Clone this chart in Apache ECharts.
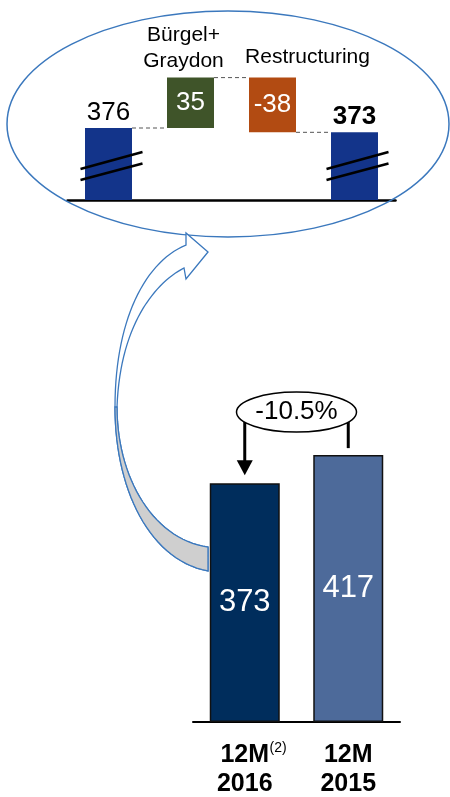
<!DOCTYPE html>
<html><head><meta charset="utf-8">
<script src="https://cdn.jsdelivr.net/npm/echarts@6.0.0/dist/echarts.min.js"></script>
<style>html,body{margin:0;padding:0;background:#fff}#c{width:450px;height:797px}</style>
</head><body><div id="c"></div>
<script>
// ---- data ----
const insetCategories = ['12M 2015', 'Bürgel+\nGraydon', 'Restructuring', '12M 2016'];
const insetValues = [376, 35, -38, 373];
const mainLine1 = ['12M', '12M'];
const mainFootnotes = ['(2)', ''];
const mainLine2 = ['2016', '2015'];
const mainValues = [373, 417];
const changeLabel = '-10.5%';

// ---- styles ----
const FONT = '"Liberation Sans", Arial, sans-serif';
const insetTotalColor = '#13348a';
const insetUpColor = '#3f5429';
const insetDownColor = '#b24b12';
const mainColors = ['#002d5c', '#4d6a9a'];
const INSET_BW = 47, MAIN_BW = 70;

// waterfall helpers derived from insetValues
const last = insetValues.length - 1;
const baseData = [], totalData = [], upData = [], downData = [], runAfter = [];
let running = 0;
insetValues.forEach((v, i) => {
  if (i === 0 || i === last) {
    running = v;
    totalData.push(v); baseData.push('-'); upData.push('-'); downData.push('-');
  } else if (v >= 0) {
    baseData.push(running); upData.push(v); downData.push('-'); totalData.push('-');
    running += v;
  } else {
    running += v;
    baseData.push(running); downData.push(-v); upData.push('-'); totalData.push('-');
  }
  runAfter.push(running);
});

const chart = echarts.init(document.getElementById('c'));
const option = {
  animation: false,
  textStyle: { fontFamily: FONT },
  grid: [
    { left: 67.5, width: 328, top: 56, height: 144 },
    { left: 193, width: 207, top: 402, height: 320 }
  ],
  xAxis: [
    { gridIndex: 0, type: 'category', data: insetCategories,
      axisLine: { lineStyle: { color: '#000', width: 2.5 } },
      axisTick: { show: false }, axisLabel: { show: false } },
    { gridIndex: 1, type: 'category', data: mainLine2,
      axisLine: { lineStyle: { color: '#000', width: 2 } },
      axisTick: { show: false },
      axisLabel: {
        margin: 19, interval: 0,
        formatter: (val, i) => {
          const fn = mainFootnotes[i];
          const l1 = fn ? '{sp|}{b|' + mainLine1[i] + '}{sup|' + fn + '}' : '{b|' + mainLine1[i] + '}';
          return l1 + '\n{b|' + mainLine2[i] + '}';
        },
        rich: {
          b: { fontSize: 25, fontWeight: 'bold', color: '#000', lineHeight: 29, fontFamily: FONT },
          sup: { fontSize: 14, color: '#000', lineHeight: 15, verticalAlign: 'top', width: 18, fontFamily: FONT },
          sp: { width: 18 }
        }
      } }
  ],
  yAxis: [
    { gridIndex: 0, type: 'value', min: 326, max: 426, show: false },
    { gridIndex: 1, type: 'value', min: 0, max: 500, show: false }
  ],
  series: [
    { type: 'bar', name: 'base', xAxisIndex: 0, yAxisIndex: 0, stack: 'w', barWidth: INSET_BW,
      data: baseData, itemStyle: { color: 'rgba(0,0,0,0)' }, silent: true },
    { type: 'bar', name: 'total', xAxisIndex: 0, yAxisIndex: 0, stack: 'w', barWidth: INSET_BW,
      data: totalData, itemStyle: { color: insetTotalColor },
      label: { show: true, position: 'top', distance: 2,
        formatter: p => (p.dataIndex === last ? '{bb|' : '{n|') + insetValues[p.dataIndex] + '}',
        rich: { n: { fontSize: 26, color: '#000', fontFamily: FONT },
                bb: { fontSize: 26, color: '#000', fontWeight: 'bold', fontFamily: FONT } } } },
    { type: 'bar', name: 'up', xAxisIndex: 0, yAxisIndex: 0, stack: 'w', barWidth: INSET_BW,
      data: upData, itemStyle: { color: insetUpColor },
      label: { show: true, position: 'inside', color: '#fff', fontSize: 26, fontFamily: FONT,
        formatter: p => String(insetValues[p.dataIndex]) } },
    { type: 'bar', name: 'down', xAxisIndex: 0, yAxisIndex: 0, stack: 'w', barWidth: INSET_BW,
      data: downData, itemStyle: { color: insetDownColor },
      label: { show: true, position: 'inside', color: '#fff', fontSize: 26, fontFamily: FONT,
        formatter: p => String(insetValues[p.dataIndex]) } },
    { type: 'bar', name: 'main', xAxisIndex: 1, yAxisIndex: 1, barWidth: MAIN_BW, z: 5,
      data: mainValues.map((v, i) => ({ value: v, itemStyle: { color: mainColors[i] } })),
      itemStyle: { borderColor: '#111', borderWidth: 1.5 },
      label: { show: true, position: 'inside', color: '#fff', fontSize: 31, fontFamily: FONT } }
  ]
};
chart.setOption(option);

// ---- annotations computed from the axes ----
const g = [];
const ip = (c, v) => chart.convertToPixel({ xAxisIndex: 0, yAxisIndex: 0 }, [c, v]);
const mp = (c, v) => chart.convertToPixel({ xAxisIndex: 1, yAxisIndex: 1 }, [c, v]);

// cubic bezier sampler -> point list
function bez(p0, p1, p2, p3, n) {
  const pts = [];
  for (let k = 1; k <= n; k++) {
    const t = k / n, u = 1 - t;
    pts.push([u*u*u*p0[0] + 3*u*u*t*p1[0] + 3*u*t*t*p2[0] + t*t*t*p3[0],
              u*u*u*p0[1] + 3*u*u*t*p1[1] + 3*u*t*t*p2[1] + t*t*t*p3[1]]);
  }
  return pts;
}

// big ellipse (callout)
g.push({ type: 'ellipse', z: 1, shape: { cx: 228, cy: 124, rx: 221, ry: 113 },
  style: { fill: 'none', stroke: '#3b78bd', lineWidth: 1.5 } });

// curved arrow (outline sampled from bezier curves)
const A1 = bez([186,245],[145,262],[115,320],[115,407], 30);
const A2 = bez([115,407],[115,490],[150,560],[208,571], 30);
const B2r = bez([208,547],[155,540],[117,480],[117,407], 30);
const B1r = bez([117,407],[120,325],[155,283],[184,268], 30);
const arrowPts = [[208,252],[186,233],[186,245]].concat(A1, A2, [[208,547]], B2r, B1r, [[186,279]]);
g.push({ type: 'polygon', z: 1, shape: { points: arrowPts },
  style: { fill: '#fff', stroke: '#3b78bd', lineWidth: 1.3 } });
const lobePts = [[115,407]].concat(A2, [[208,547]], B2r);
g.push({ type: 'polygon', z: 1, shape: { points: lobePts },
  style: { fill: '#cfcfcf', stroke: '#3b78bd', lineWidth: 1.3 } });

// dashed connectors between waterfall bars
for (let i = 0; i < last; i++) {
  const a = ip(i, runAfter[i]);
  const b = ip(i + 1, runAfter[i]);
  g.push({ type: 'line', z: 3, shape: { x1: a[0] + INSET_BW / 2, y1: a[1], x2: b[0] - INSET_BW / 2, y2: b[1] },
    style: { stroke: '#555', lineWidth: 1, lineDash: [4, 3] } });
}
// axis-break marks on total bars
[0, last].forEach(i => {
  const p = ip(i, 326);
  const cx = p[0], base = p[1];
  [[31, 48], [20, 36.5]].forEach(([l, r]) => {
    g.push({ type: 'line', z: 10, shape: { x1: cx - 28, y1: base - l, x2: cx + 34, y2: base - r },
      style: { stroke: '#000', lineWidth: 2.5 } });
  });
});
// inset category titles
const t1 = ip(1, runAfter[1]);
g.push({ type: 'text', z: 10, style: { text: insetCategories[1], x: t1[0] - 7, y: t1[1] - 29,
  align: 'center', verticalAlign: 'middle', fontSize: 21, lineHeight: 26, fontFamily: FONT, fill: '#000' } });
const t2 = ip(2, runAfter[1]);
g.push({ type: 'text', z: 10, style: { text: insetCategories[2], x: t2[0] + 35, y: t2[1] - 20,
  align: 'center', verticalAlign: 'middle', fontSize: 21, fontFamily: FONT, fill: '#000' } });

// -10.5% change annotation
const pL = mp(0, mainValues[0]);
const pR = mp(1, mainValues[1]);
const ecx = (pL[0] + pR[0]) / 2, ecy = pR[1] - 43;
g.push({ type: 'line', z: 10, shape: { x1: pL[0], y1: ecy + 8, x2: pL[0], y2: pL[1] - 22 },
  style: { stroke: '#000', lineWidth: 3 } });
g.push({ type: 'polygon', z: 10, shape: { points: [[pL[0] - 8, pL[1] - 23], [pL[0] + 8, pL[1] - 23], [pL[0], pL[1] - 8]] },
  style: { fill: '#000' } });
g.push({ type: 'line', z: 10, shape: { x1: pR[0], y1: ecy + 8, x2: pR[0], y2: pR[1] - 7 },
  style: { stroke: '#000', lineWidth: 3 } });
g.push({ type: 'ellipse', z: 11, shape: { cx: ecx, cy: ecy, rx: 60, ry: 20 },
  style: { fill: '#fff', stroke: '#000', lineWidth: 1.5 } });
g.push({ type: 'text', z: 12, style: { text: changeLabel, x: ecx, y: ecy, align: 'center', verticalAlign: 'middle',
  fontSize: 26, fontFamily: FONT, fill: '#000' } });

chart.setOption({ graphic: g });
</script>
</body></html>
